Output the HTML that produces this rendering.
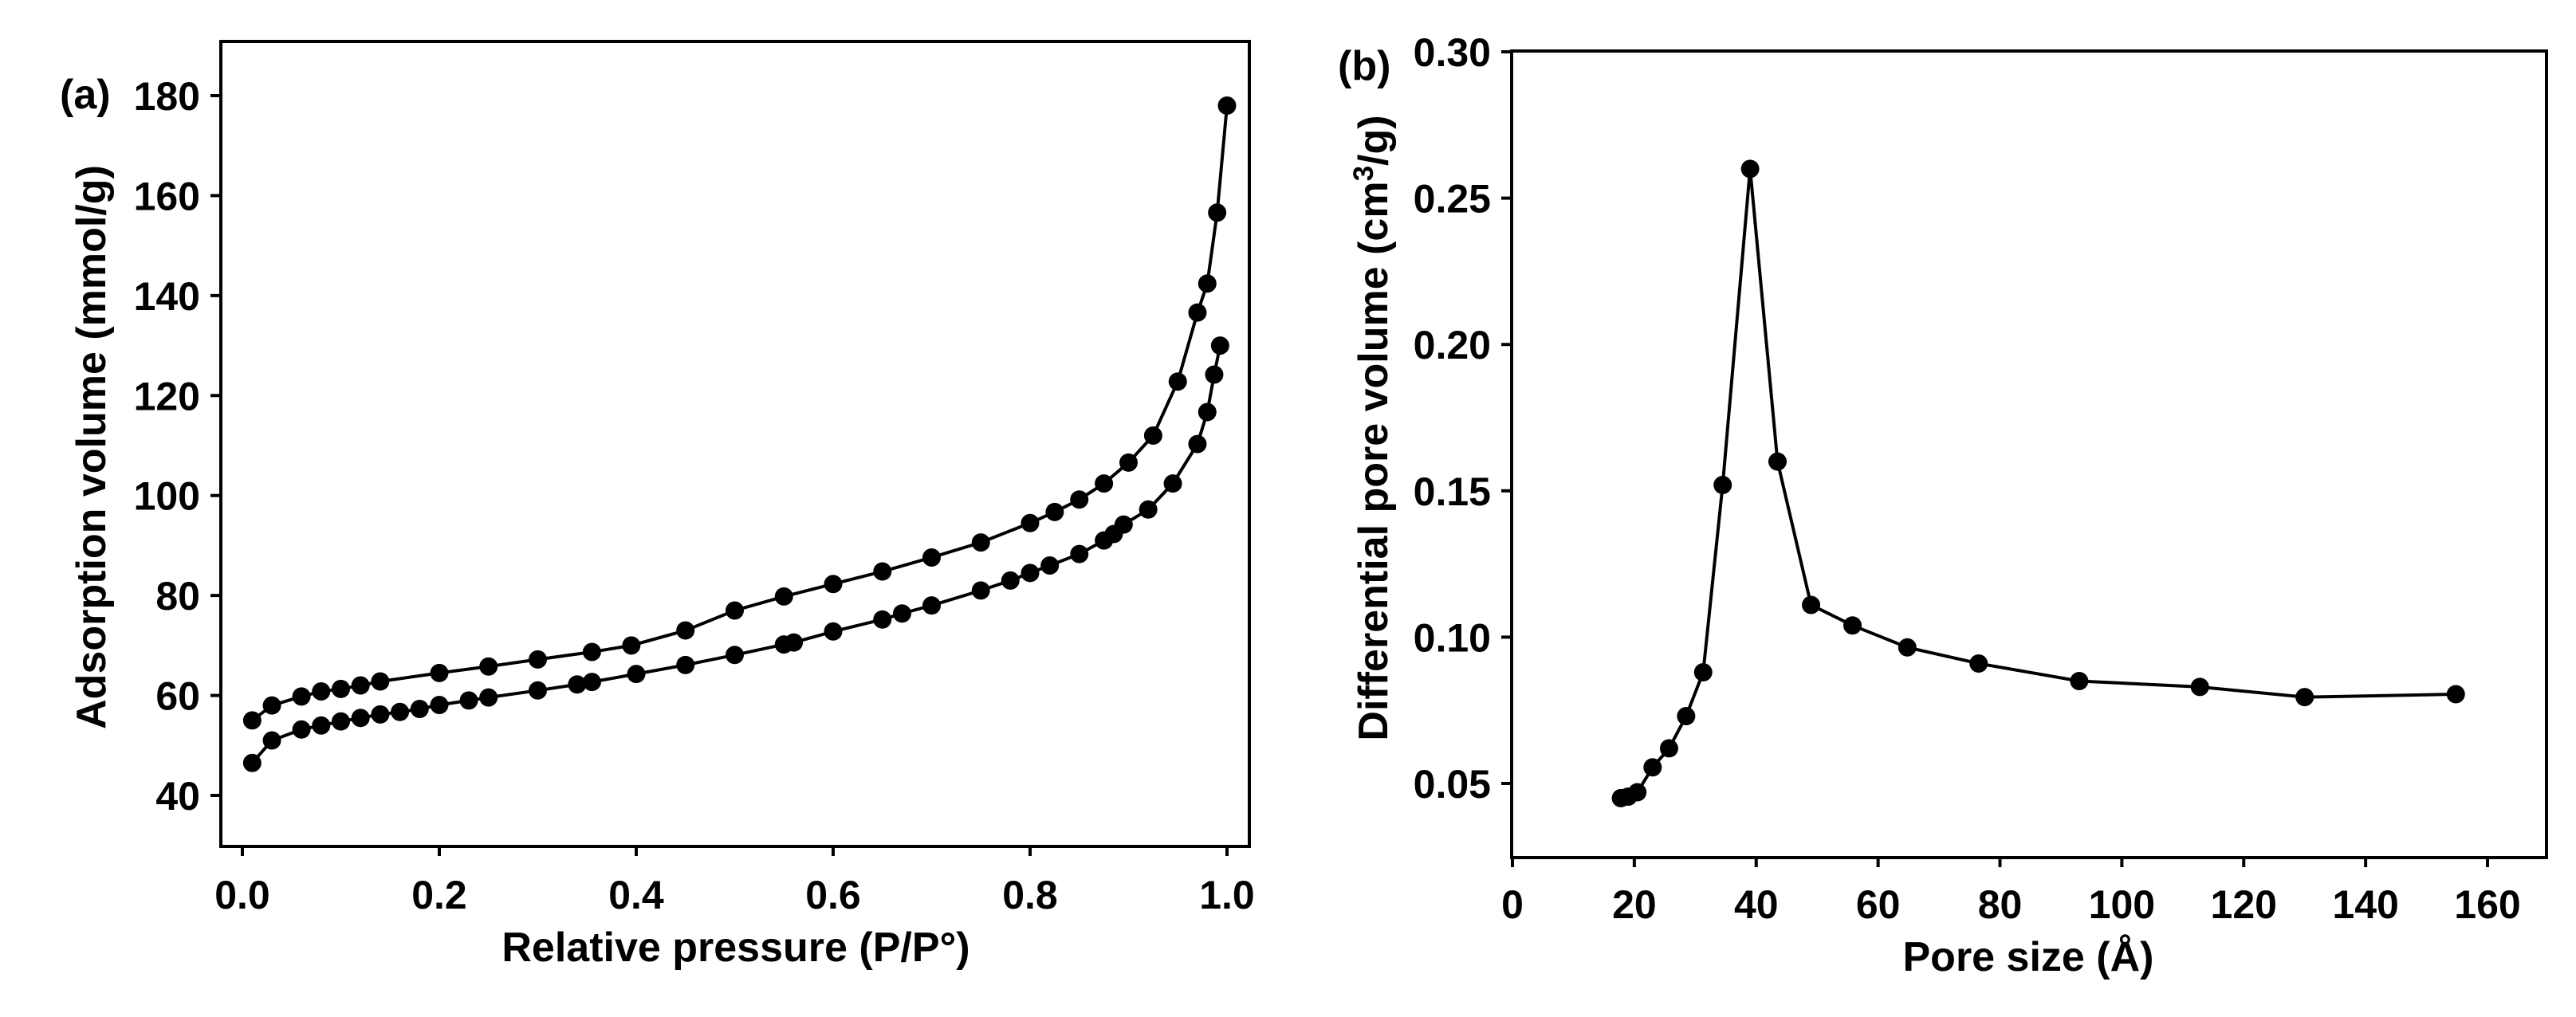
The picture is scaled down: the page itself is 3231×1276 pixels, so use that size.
<!DOCTYPE html>
<html><head><meta charset="utf-8"><style>
html,body{margin:0;padding:0;background:#fff;overflow:hidden;}
svg{display:block;font-family:"Liberation Sans",Arial,sans-serif;font-weight:bold;}
</style></head><body>
<svg id="fig" width="3231" height="1276" viewBox="0 0 3231 1276" xmlns="http://www.w3.org/2000/svg"></svg>
<script>
// Panel (a) data
const aUpperX = [0.01,0.03,0.06,0.08,0.10,0.12,0.14,0.20,0.25,0.30,0.355,0.395,0.45,0.50,0.55,0.60,0.65,0.70,0.75,0.80,0.825,0.85,0.875,0.90,0.925,0.95,0.97,0.98,0.99,1.0];
const aUpperY = [55,58,59.8,60.8,61.3,62,62.8,64.5,65.8,67.2,68.7,70,73,77,79.8,82.3,84.8,87.6,90.6,94.5,96.7,99.2,102.4,106.6,112,122.8,136.6,142.4,156.6,178];
const aLowerX = [0.01,0.03,0.06,0.08,0.10,0.12,0.14,0.16,0.18,0.20,0.23,0.25,0.30,0.34,0.355,0.40,0.45,0.50,0.55,0.56,0.60,0.65,0.67,0.70,0.75,0.78,0.80,0.82,0.85,0.875,0.885,0.895,0.92,0.945,0.97,0.98,0.987,0.993];
const aLowerY = [46.5,51,53.2,54,54.8,55.5,56.2,56.7,57.3,58.1,59,59.6,61,62.2,62.7,64.3,66.1,68.1,70.2,70.6,72.8,75.2,76.4,78,81,83,84.5,86,88.3,91,92.3,94.2,97.2,102.4,110.3,116.7,124.2,130];
const aXTicks = [0,0.2,0.4,0.6,0.8,1.0];
const aXTickLabels = ["0.0","0.2","0.4","0.6","0.8","1.0"];
const aYTicks = [40,60,80,100,120,140,160,180];
// Panel (b) data
const bX = [17.8,19,20.5,23,25.7,28.5,31.3,34.5,39,43.5,49,55.8,64.8,76.5,93,112.8,130,154.8];
const bY = [0.045,0.0455,0.047,0.0555,0.062,0.073,0.088,0.152,0.26,0.16,0.111,0.104,0.0965,0.091,0.085,0.083,0.0795,0.0805];
const bXTicks = [0,20,40,60,80,100,120,140,160];
const bYTicks = [0.05,0.10,0.15,0.20,0.25,0.30];
const bYTickLabels = ["0.05","0.10","0.15","0.20","0.25","0.30"];

const NS="http://www.w3.org/2000/svg";
const svg=document.getElementById('fig');
function mk(tag,attrs,parent){const e=document.createElementNS(NS,tag);for(const k in attrs)e.setAttribute(k,attrs[k]);(parent||svg).appendChild(e);return e;}
function lin(d0,d1,r0,r1){return v=>r0+(v-d0)*(r1-r0)/(d1-d0);}
const FS=50;

// ---------- Panel a ----------
const ax=lin(0,1,304,1539), ay=lin(40,180,998,120);
const ga=mk('g',{});


const fa=mk('rect',{x:277,y:52,width:1290,height:1010,fill:'none',stroke:'#000','stroke-width':4},ga);


aXTicks.forEach((t,i)=>{
  const l=mk('line',{x1:ax(t),x2:ax(t),y1:1062,y2:1074,stroke:'#000','stroke-width':4},ga);
  
  
  const tx=mk('text',{x:ax(t),y:1140,'font-size':FS,'text-anchor':'middle'},ga);
  tx.textContent=aXTickLabels[i];
  
  
});
aYTicks.forEach(t=>{
  const l=mk('line',{x1:264,x2:277,y1:ay(t),y2:ay(t),stroke:'#000','stroke-width':4},ga);
  
  
  const tx=mk('text',{x:251,y:ay(t)+18,'font-size':FS,'text-anchor':'end'},ga);
  tx.textContent=String(t);
  
  
});
function series(xs,ys,fx,fy,g,name){
  const pts=xs.map((x,i)=>fx(x)+','+fy(ys[i])).join(' ');
  const pl=mk('polyline',{points:pts,fill:'none',stroke:'#000','stroke-width':4},g);
  
  
  xs.forEach((x,i)=>{
    const c=mk('circle',{cx:fx(x),cy:fy(ys[i]),r:11.5,fill:'#000'},g);
    
    
  });
}
series(aUpperX,aUpperY,ax,ay,ga,'desorption');
series(aLowerX,aLowerY,ax,ay,ga,'adsorption');
let t;
t=mk('text',{x:75,y:136,'font-size':52},ga);t.textContent='(a)';


t=mk('text',{x:923,y:1206,'font-size':52,'text-anchor':'middle'},ga);t.textContent='Relative pressure (P/P°)';


t=mk('text',{x:0,y:0,'font-size':52,'text-anchor':'middle',transform:'translate(132,561) rotate(-90)'},ga);t.textContent='Adsorption volume (mmol/g)';



// ---------- Panel b ----------
const bx=lin(0,160,1897,3120), by=lin(0.05,0.30,983,65);
const gb=mk('g',{});


const fb=mk('rect',{x:1896,y:64,width:1298,height:1012,fill:'none',stroke:'#000','stroke-width':4},gb);


bXTicks.forEach(v=>{
  const l=mk('line',{x1:bx(v),x2:bx(v),y1:1076,y2:1088,stroke:'#000','stroke-width':4},gb);
  
  
  const tx=mk('text',{x:bx(v),y:1152,'font-size':FS,'text-anchor':'middle'},gb);
  tx.textContent=String(v);
  
  
});
bYTicks.forEach((v,i)=>{
  const l=mk('line',{x1:1883,x2:1896,y1:by(v),y2:by(v),stroke:'#000','stroke-width':4},gb);
  
  
  const tx=mk('text',{x:1870,y:by(v)+18,'font-size':FS,'text-anchor':'end'},gb);
  tx.textContent=bYTickLabels[i];
  
  
});
series(bX,bY,bx,by,gb,'pore-distribution');
t=mk('text',{x:1678,y:100,'font-size':52},gb);t.textContent='(b)';


t=mk('text',{x:2544,y:1218,'font-size':52,'text-anchor':'middle'},gb);t.textContent='Pore size (Å)';


t=mk('text',{x:0,y:0,'font-size':52,'text-anchor':'middle',transform:'translate(1740,537) rotate(-90)'},gb);


const s1=mk('tspan',{},t);s1.textContent='Differential pore volume (cm';
const s2=mk('tspan',{dy:-18,'font-size':35},t);s2.textContent='3';
const s3=mk('tspan',{dy:18},t);s3.textContent='/g)';
</script>
</body></html>
